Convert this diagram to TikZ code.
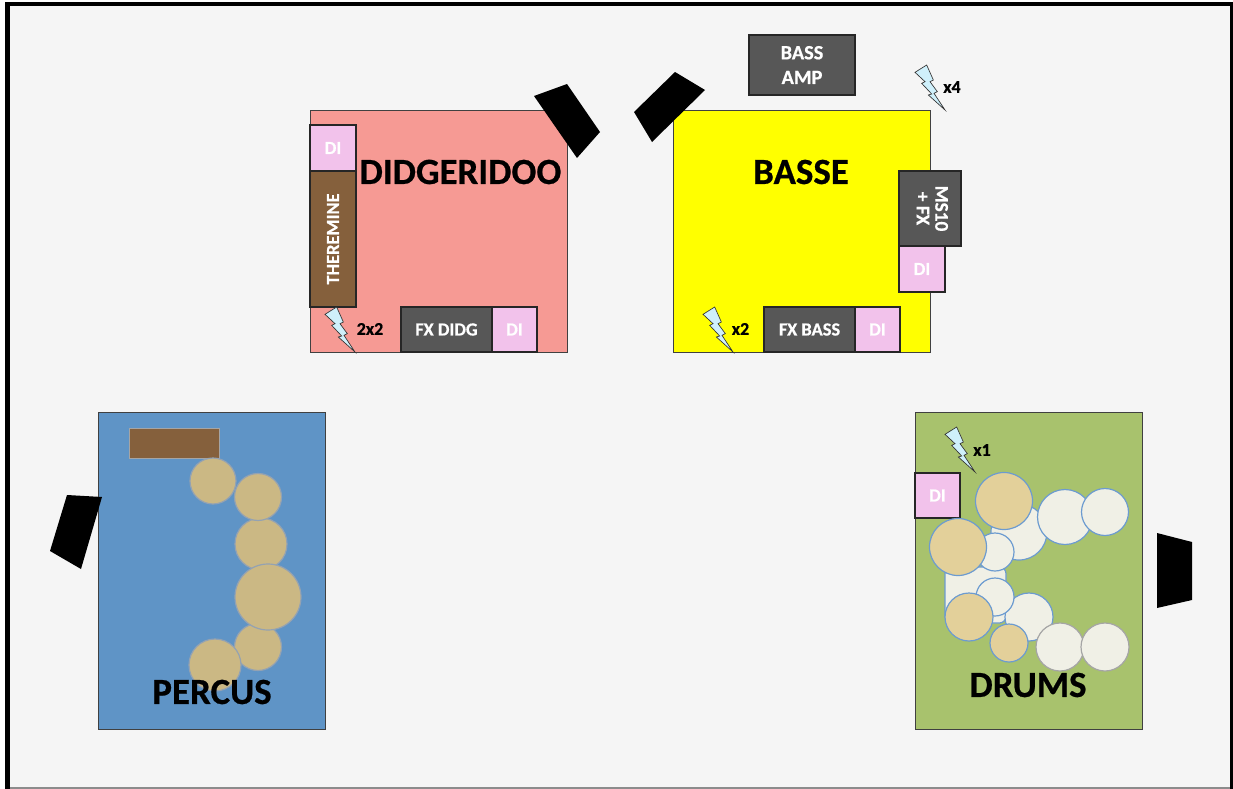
\documentclass[tikz,border=0pt]{standalone}
\usepackage{fontspec}
\setmainfont{Carlito}
\newfontfamily\heavy{Carlito}[BoldFeatures={FakeBold=0.6}]
\usetikzlibrary{shadows}
\definecolor{bgc}{HTML}{F5F5F5}
\definecolor{edgec}{HTML}{404040}
\definecolor{didgc}{HTML}{F69A94}
\definecolor{bassc}{HTML}{FFFF00}
\definecolor{percc}{HTML}{5F94C6}
\definecolor{drumc}{HTML}{A8C26D}
\definecolor{darkc}{HTML}{575757}
\definecolor{dic}{HTML}{F2C2EB}
\definecolor{brownc}{HTML}{85603C}
\definecolor{tanc}{HTML}{CBB884}
\definecolor{tanb}{HTML}{E3D09A}
\definecolor{shellc}{HTML}{F0F0E6}
\definecolor{blueedge}{HTML}{6C9BD0}
\definecolor{greyedge}{HTML}{A5A5A5}
\definecolor{boltc}{HTML}{CFF0FB}
\tikzset{
  x=0.75pt,y=-0.75pt,
  zone/.style={draw=edgec,line width=0.75pt,inner sep=0pt,outer sep=0pt},
  unit/.style={draw=black!85,line width=0.8pt,inner sep=0pt,outer sep=0pt,text=white,font=\heavy\bfseries\fontsize{13.8}{15}\selectfont,align=center},
  darkbox/.style={unit,fill=darkc},
  dibox/.style={unit,fill=dic},
  title/.style={text=black,font=\heavy\bfseries\fontsize{27.7}{30}\selectfont,inner sep=0pt},
  tag/.style={text=black,font=\heavy\bfseries\fontsize{13.5}{14}\selectfont,inner sep=0pt},
  speaker/.style={fill=black,draw=none},
  bolt/.style={fill=boltc,draw=black!80,line width=0.5pt,line join=miter},
  tandrum/.style={circle,draw=greyedge!70!blueedge,line width=0.9pt,fill=tanc,inner sep=0pt,outer sep=0pt},
  kitb/.style={circle,draw=blueedge,line width=0.9pt,fill=tanb,inner sep=0pt,outer sep=0pt},
  kits/.style={circle,draw=blueedge,line width=0.9pt,fill=shellc,inner sep=0pt,outer sep=0pt},
  kitg/.style={circle,draw=greyedge,line width=0.9pt,fill=shellc,inner sep=0pt,outer sep=0pt},
}
\newcommand{\bx}[7]{\node[#2,anchor=north west,minimum width={(#5-#3)*0.75pt},minimum height={(#6-#4)*0.75pt}] (#1) at (#3,#4) {#7};}
\newcommand{\drum}[5]{\node[#2,minimum size={2*#5*0.75pt}] (#1) at (#3,#4) {};}
\newcommand{\boltat}[2]{\draw[bolt,shift={(#1,#2)},x=0.25pt,y=-0.25pt] (0,22)--(35,0)--(55,45)--(45,50)--(67,80)--(57,85)--(90,135)--(40,90)--(50,87)--(20,55)--(30,50)--cycle;}
\begin{document}
\begin{tikzpicture}
\useasboundingbox (0,0) rectangle (1233,789);
\fill[white] (0,0) rectangle (1233,789);
\fill[black] (5,2) rectangle (1233,789);
\fill[bgc] (10,6) rectangle (1230,787);
\fill[black!45] (10,787) rectangle (1230,789);
% zones
\bx{didg}{zone,fill=didgc}{310}{110}{567}{352}{}
\bx{bass}{zone,fill=bassc}{673}{110}{930}{352}{}
\bx{perc}{zone,fill=percc}{98.5}{412.5}{325.5}{729}{}
\bx{drms}{zone,fill=drumc}{915}{412.5}{1142}{729}{}
% speakers
\fill[speaker] (534,96)--(567,84)--(600,132)--(577,158)--cycle;
\fill[speaker] (634,112)--(675,72)--(705,90)--(652,142)--cycle;
\fill[speaker] (67,495)--(102,497)--(81,569)--(50,551)--cycle;
\fill[speaker] (1157,533)--(1192,542)--(1192,600)--(1157,608)--cycle;
% didgeridoo
\bx{didi}{dibox}{310}{125}{356}{171}{DI}
\bx{ther}{unit,fill=brownc,drop shadow={shadow xshift=0pt,shadow yshift=-1pt,opacity=.3}}{310}{171}{356}{307}{\rotatebox{90}{THEREMINE}}
\bx{fxd}{darkbox}{401}{307}{492}{352}{FX DIDG}
\bx{didii}{dibox}{492}{307}{537}{352}{DI}
\node[title] (tdidg) at (460.5,172) {DIDGERIDOO};
\boltat{325}{307}
\node[tag] (t2x2) at (370,329) {2x2};
% basse
\bx{amp}{darkbox,font=\heavy\bfseries\fontsize{15.2}{15}\selectfont}{749}{35}{855}{95}{BASS\\[3.5pt]AMP}
\bx{ms}{darkbox,font=\heavy\bfseries\fontsize{14.5}{15}\selectfont}{899}{171}{961}{246}{\rotatebox{-90}{\begin{tabular}{@{}c@{}}MS10\\[-1pt]+ FX\end{tabular}}}
\bx{bdi}{dibox}{899}{246}{945}{292}{DI}
\bx{fxb}{darkbox}{764}{307}{855}{352}{FX BASS}
\bx{bdii}{dibox}{855}{307}{900}{352}{DI}
\node[title] (tbass) at (801,172) {BASSE};
\boltat{703}{307}
\node[tag] (tx2) at (740.5,329) {x2};
\boltat{915}{65}
\node[tag] (tx4) at (952,87) {x4};
% percus
\bx{brwn}{fill=brownc,draw=greyedge,line width=0.6pt,inner sep=0pt,outer sep=0pt}{129}{428}{219}{458}{}
\drum{p5}{tandrum}{258}{647}{23.5}
\drum{p6}{tandrum}{215}{665}{26}
\drum{p3}{tandrum}{261}{544}{26}
\drum{p2}{tandrum}{258}{497}{23.5}
\drum{p1}{tandrum}{213}{481}{23}
\drum{p4}{tandrum}{268}{597}{33}
\node[title] (tperc) at (212,692) {PERCUS};
% drums
\bx{drdi}{dibox}{915}{473}{960}{518}{DI}
\boltat{945}{427}
\node[tag] (tx1) at (982,450) {x1};
\node[kits,rectangle,rounded corners=5pt,anchor=north west,minimum width={61*0.75pt},minimum height={56*0.75pt}] (seat) at (945,567) {};
\drum{d3}{kits}{1019}{532}{28}
\drum{d2}{kits}{1065}{517}{27.5}
\drum{d1}{kits}{1105}{512}{23.5}
\drum{d5}{kits}{995}{552}{19}
\drum{d4}{kitb}{1004}{501}{28.5}
\drum{d6}{kitb}{958}{547}{28.5}
\drum{d8}{kits}{1029}{617}{24}
\drum{d7}{kits}{995}{597}{19}
\drum{d9}{kitb}{969}{617}{24}
\drum{d10}{kitb}{1009}{643}{19}
\drum{d11}{kitg}{1060}{647}{24}
\drum{d12}{kitg}{1105}{647}{24}
\node[title] (tdrm) at (1028,685) {DRUMS};
\end{tikzpicture}
\end{document}
